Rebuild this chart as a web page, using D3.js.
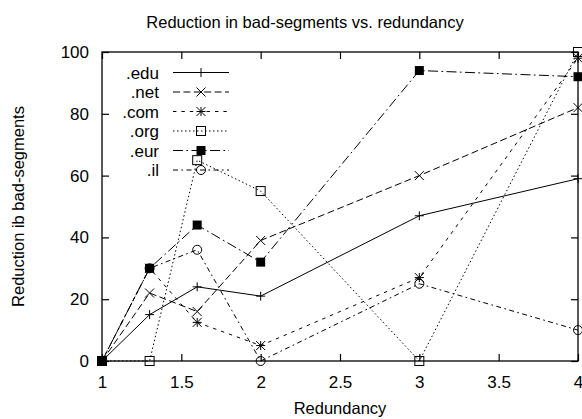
<!DOCTYPE html>
<html>
<head>
<meta charset="utf-8">
<script src="https://cdn.jsdelivr.net/npm/d3@7"></script>
<style>
html,body{margin:0;padding:0;background:#fff;}
svg{display:block;}
text{font-family:"Liberation Sans", Arial, Helvetica, sans-serif;fill:#000;}
</style>
</head>
<body>
<svg id="chart" width="582" height="419"></svg>
<script>
// ---- data ----
const redundancy = [1, 1.3, 1.6, 2, 3, 4];
const seriesNames = [".edu", ".net", ".com", ".org", ".eur", ".il"];
const edu = [0, 15, 24, 21, 47, 59];
const net = [0, 22, 16, 39, 60, 82];
const com = [0, 30, 12.5, 5, 27, 98];
const org = [0, 0, 65, 55, 0, 100];
const eur = [0, 30, 44, 32, 94, 92];
const il  = [0, 30, 36, 0, 25, 10];
const xTicks = [1, 1.5, 2, 2.5, 3, 3.5, 4];
const yTicks = [0, 20, 40, 60, 80, 100];
const title = "Reduction in bad-segments vs. redundancy";
const xLabel = "Redundancy";
const yLabel = "Reduction ib bad-segments";

// ---- styles ----
const values = [edu, net, com, org, eur, il];
const dashes = [null, "7,3.4", "3.4,5", "1.5,2.5", "10,3.4,1.7,3.4", "5,3.4,1.7,3.4"];
const markers = ["plus", "cross", "star", "square", "fsquare", "circle"];

const svg = d3.select("#chart");
const L = 102, R = 578, T = 52, B = 361;
const x = d3.scaleLinear().domain([1, 4]).range([L, R]);
const y = d3.scaleLinear().domain([0, 100]).range([B, T]);
const fs = 17;

// title
svg.append("text").attr("x", 305).attr("y", 28).attr("text-anchor", "middle")
  .attr("font-size", 16.5).text(title);

// axes (inward ticks, mirrored)
const tickLen = 7;
const axB = svg.append("g").attr("transform", `translate(0,${B})`)
  .call(d3.axisBottom(x).tickValues(xTicks).tickSizeInner(-tickLen).tickSizeOuter(0).tickPadding(tickLen + 8).tickFormat(d3.format("")));
const axT = svg.append("g").attr("transform", `translate(0,${T})`)
  .call(d3.axisTop(x).tickValues(xTicks).tickSizeInner(-tickLen).tickSizeOuter(0).tickFormat(""));
const axL = svg.append("g").attr("transform", `translate(${L},0)`)
  .call(d3.axisLeft(y).tickValues(yTicks).tickSizeInner(-tickLen).tickSizeOuter(0).tickPadding(tickLen + 6));
const axR = svg.append("g").attr("transform", `translate(${R},0)`)
  .call(d3.axisRight(y).tickValues(yTicks).tickSizeInner(-tickLen).tickSizeOuter(0).tickFormat(""));
[axB, axT, axL, axR].forEach(a => {
  a.select(".domain").remove();
  a.selectAll("line").attr("stroke", "#000").attr("stroke-width", 1.2);
  a.selectAll("text").attr("font-size", fs).attr("font-family", "Liberation Sans, Arial, sans-serif");
});
axB.selectAll("text").attr("dy", "0.71em");

svg.append("rect").attr("x", L).attr("y", T).attr("width", R - L).attr("height", B - T)
  .attr("fill", "none").attr("stroke", "#000").attr("stroke-width", 1.3);

// axis labels
svg.append("text").attr("x", (L + R) / 2).attr("y", 414).attr("text-anchor", "middle")
  .attr("font-size", 16.5).text(xLabel);
svg.append("text").attr("transform", `translate(24,${(T + B) / 2}) rotate(-90)`)
  .attr("text-anchor", "middle").attr("font-size", 16.5).text(yLabel);

// marker drawing
function drawMarker(g, type, cx, cy) {
  const s = 4.5;
  if (type === "plus" || type === "star") {
    g.append("path").attr("d", `M${cx - s},${cy}H${cx + s}M${cx},${cy - s}V${cy + s}`)
      .attr("stroke", "#000").attr("stroke-width", 1).attr("fill", "none");
  }
  if (type === "cross" || type === "star") {
    g.append("path").attr("d", `M${cx - s},${cy - s}L${cx + s},${cy + s}M${cx - s},${cy + s}L${cx + s},${cy - s}`)
      .attr("stroke", "#000").attr("stroke-width", 1).attr("fill", "none");
  }
  if (type === "square") {
    g.append("rect").attr("x", cx - s).attr("y", cy - s).attr("width", 2 * s).attr("height", 2 * s)
      .attr("stroke", "#000").attr("stroke-width", 1).attr("fill", "none");
  }
  if (type === "fsquare") {
    g.append("rect").attr("x", cx - s).attr("y", cy - s).attr("width", 2 * s).attr("height", 2 * s)
      .attr("fill", "#000");
  }
  if (type === "circle") {
    g.append("circle").attr("cx", cx).attr("cy", cy).attr("r", s)
      .attr("stroke", "#000").attr("stroke-width", 1).attr("fill", "none");
  }
}

const line = d3.line().x(d => x(d[0])).y(d => y(d[1]));
values.forEach((vals, i) => {
  const pts = redundancy.map((r, j) => [r, vals[j]]);
  const g = svg.append("g").attr("class", "series");
  g.append("path").attr("d", line(pts)).attr("fill", "none").attr("stroke", "#000")
    .attr("stroke-width", 1).attr("stroke-dasharray", dashes[i]);
  pts.forEach(p => drawMarker(g, markers[i], x(p[0]), y(p[1])));
});

// legend
const legY0 = 72.5, legDy = 19.5;
seriesNames.forEach((name, i) => {
  const ly = legY0 + i * legDy;
  const g = svg.append("g").attr("class", "legend");
  g.append("text").attr("x", 159).attr("y", ly).attr("dy", "0.36em").attr("text-anchor", "end")
    .attr("font-size", fs).text(name);
  g.append("line").attr("x1", 173).attr("x2", 229).attr("y1", ly).attr("y2", ly)
    .attr("stroke", "#000").attr("stroke-width", 1).attr("stroke-dasharray", dashes[i]);
  drawMarker(g, markers[i], 201, ly);
});
</script>
</body>
</html>
